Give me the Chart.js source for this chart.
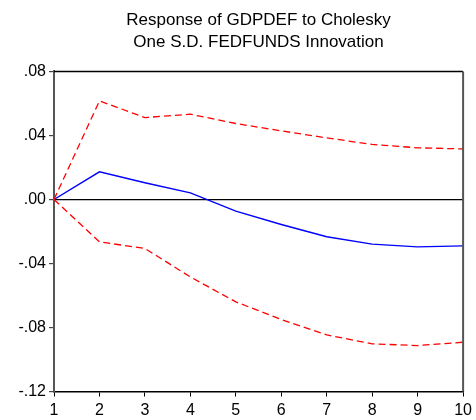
<!DOCTYPE html>
<html>
<head>
<meta charset="utf-8">
<script src="https://cdn.jsdelivr.net/npm/chart.js@4/dist/chart.umd.min.js"></script>
<style>
html,body{margin:0;padding:0;background:#fff;}
canvas{display:block;}
</style>
</head>
<body>
<canvas id="c" width="476" height="420"></canvas>
<script>
const periods = [1, 2, 3, 4, 5, 6, 7, 8, 9, 10];
const response = [0.0, 0.0173, 0.0105, 0.0041, -0.0073, -0.0156, -0.0233, -0.0279, -0.0296, -0.0290];
const upperBand = [0.0, 0.0616, 0.0512, 0.0533, 0.0475, 0.0429, 0.0385, 0.0344, 0.0323, 0.0316];
const lowerBand = [0.0, -0.0265, -0.0306, -0.0484, -0.0640, -0.0750, -0.0846, -0.0902, -0.0913, -0.0892];
const titleLines = ['Response of GDPDEF to Cholesky', 'One S.D. FEDFUNDS Innovation'];
const yMin = -0.12, yMax = 0.08, yStep = 0.04;

const toXY = arr => arr.map((v, i) => ({x: periods[i], y: v}));

const framePlugin = {
  id: 'frame',
  afterDatasetsDraw(chart) {
    const a = chart.chartArea, ctx = chart.ctx;
    ctx.save();
    ctx.strokeStyle = '#000';
    ctx.lineWidth = 1.5;
    ctx.beginPath();
    ctx.moveTo(a.left, a.top);
    ctx.lineTo(a.right, a.top);
    ctx.stroke();
    ctx.strokeStyle = '#555';
    ctx.lineWidth = 2;
    ctx.beginPath();
    ctx.moveTo(a.right, a.top);
    ctx.lineTo(a.right, a.bottom);
    ctx.stroke();
    ctx.restore();
  }
};

new Chart(document.getElementById('c'), {
  type: 'line',
  data: {
    datasets: [
      {data: toXY(upperBand), borderColor: '#ff0000', borderWidth: 1.3, borderDash: [7, 4], pointRadius: 0, tension: 0, fill: false},
      {data: toXY(lowerBand), borderColor: '#ff0000', borderWidth: 1.3, borderDash: [7, 4], pointRadius: 0, tension: 0, fill: false},
      {data: toXY(response), borderColor: '#0000ff', borderWidth: 1.4, pointRadius: 0, tension: 0, fill: false}
    ]
  },
  options: {
    responsive: false,
    animation: false,
    devicePixelRatio: 1,
    layout: {padding: {left: 0, right: 10, top: 0, bottom: 0}},
    plugins: {
      legend: {display: false},
      tooltip: {enabled: false},
      title: {
        display: true,
        text: titleLines,
        fullSize: false,
        color: '#000',
        font: {family: 'Liberation Sans, Arial, sans-serif', size: 17, weight: 'normal', lineHeight: 1.294},
        padding: {top: 9, bottom: 18.5}
      }
    },
    scales: {
      x: {
        type: 'linear',
        min: 1, max: 10,
        afterFit: s => { s.height = 28.5; },
        border: {display: true, color: '#000', width: 1.5},
        grid: {display: true, drawOnChartArea: false, drawTicks: true, tickLength: 5, tickColor: '#000', color: '#000'},
        ticks: {stepSize: 1, color: '#000', padding: 4, font: {family: 'Liberation Sans, Arial, sans-serif', size: 16}, maxRotation: 0,
          callback: v => String(v)}
      },
      y: {
        min: yMin, max: yMax,
        afterFit: s => { s.width = 54; },
        border: {display: true, color: '#555', width: 2},
        grid: {
          display: true, drawTicks: true, tickLength: 5, tickColor: '#444',
          color: c => (Math.abs(c.tick.value) < 1e-9 ? '#000' : 'rgba(0,0,0,0)'),
          lineWidth: 1.2
        },
        ticks: {stepSize: yStep, color: '#000', padding: 3, font: {family: 'Liberation Sans, Arial, sans-serif', size: 16},
          callback: v => { let s = (Math.abs(v) < 1e-9 ? 0 : v).toFixed(2); return s.replace('0.', '.'); }}
      }
    }
  },
  plugins: [framePlugin]
});
</script>
</body>
</html>
